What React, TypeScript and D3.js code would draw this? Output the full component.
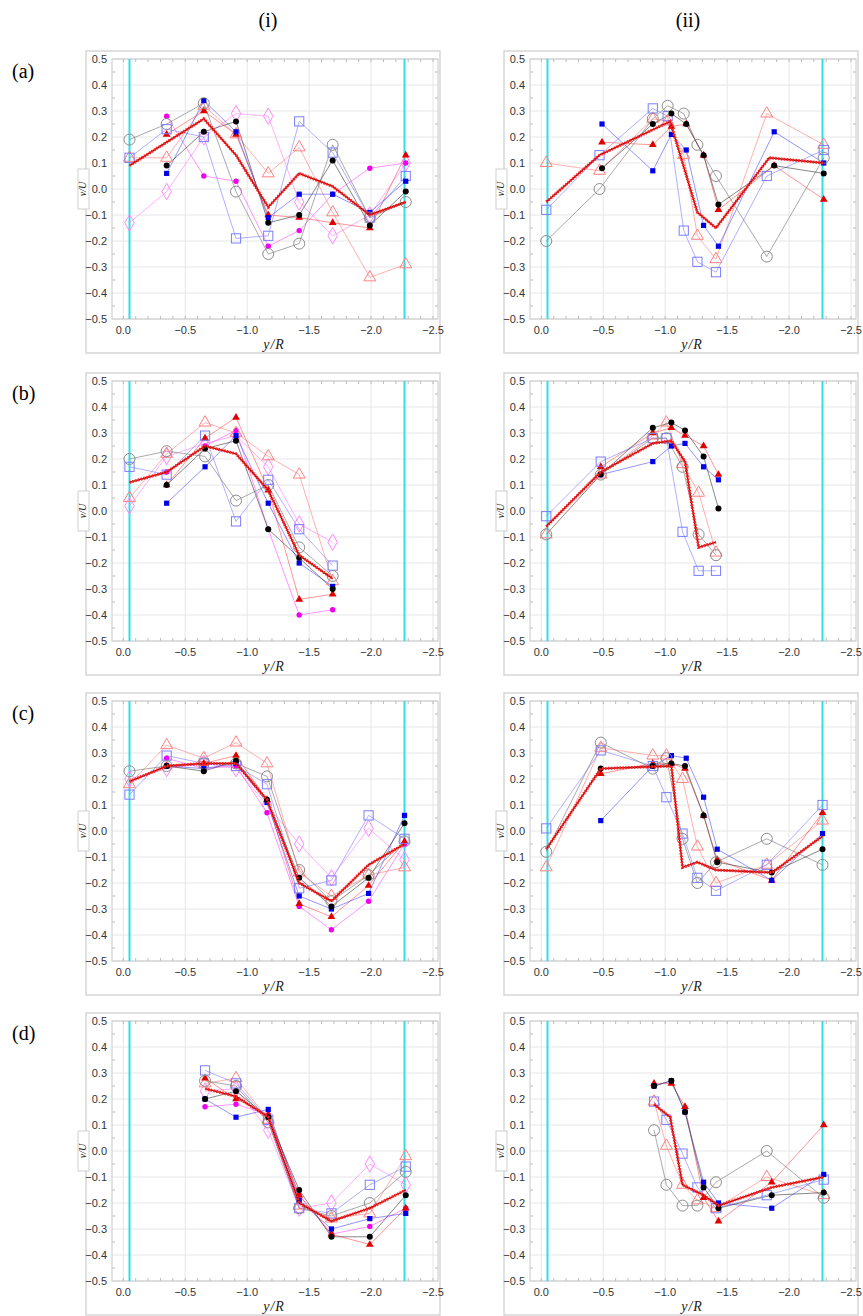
import React from "react";
import * as d3 from "d3";

type Pt = [number, number];

// ---------- (a)(i) ----------
const A1_OC: Pt[] = [[-0.05, 0.19], [-0.35, 0.25], [-0.65, 0.33], [-0.91, -0.01], [-1.17, -0.25], [-1.42, -0.21], [-1.69, 0.17], [-1.99, -0.11], [-2.28, -0.05]];
const A1_FC: Pt[] = [[-0.35, 0.09], [-0.65, 0.22], [-0.91, 0.26], [-1.17, -0.13], [-1.42, -0.1], [-1.69, 0.11], [-1.99, -0.14], [-2.28, -0.01]];
const A1_OS: Pt[] = [[-0.05, 0.12], [-0.35, 0.23], [-0.65, 0.2], [-0.91, -0.19], [-1.17, -0.18], [-1.42, 0.26], [-1.69, 0.14], [-1.99, -0.11], [-2.28, 0.05]];
const A1_FS: Pt[] = [[-0.35, 0.06], [-0.65, 0.34], [-0.91, 0.22], [-1.17, -0.11], [-1.42, -0.02], [-1.69, -0.02], [-1.99, -0.09], [-2.28, 0.03]];
const A1_OT: Pt[] = [[-0.05, 0.12], [-0.35, 0.12], [-0.65, 0.32], [-0.91, 0.21], [-1.17, 0.06], [-1.42, 0.16], [-1.69, -0.09], [-1.99, -0.34], [-2.28, -0.29]];
const A1_FT: Pt[] = [[-0.35, 0.21], [-0.65, 0.3], [-0.91, 0.21], [-1.17, -0.1], [-1.42, -0.11], [-1.69, -0.13], [-1.99, -0.15], [-2.28, 0.13]];
const A1_OD: Pt[] = [[-0.05, -0.13], [-0.35, -0.01], [-0.65, 0.2], [-0.91, 0.29], [-1.17, 0.28], [-1.42, -0.05], [-1.69, -0.18], [-1.99, -0.1], [-2.28, 0.1]];
const A1_FD: Pt[] = [[-0.35, 0.28], [-0.65, 0.05], [-0.91, 0.03], [-1.17, -0.22], [-1.42, -0.16], [-1.69, -0.02], [-1.99, 0.08], [-2.28, 0.1]];
const A1_MEAN: Pt[] = [[-0.05, 0.09], [-0.35, 0.18], [-0.65, 0.27], [-0.91, 0.13], [-1.17, -0.07], [-1.42, 0.06], [-1.69, 0.01], [-1.99, -0.1], [-2.28, -0.05]];

// ---------- (a)(ii) ----------
const A2_OC: Pt[] = [[-0.04, -0.2], [-0.47, 0.0], [-0.9, 0.27], [-1.02, 0.32], [-1.15, 0.29], [-1.26, 0.17], [-1.41, 0.05], [-1.82, -0.26], [-2.28, 0.12]];
const A2_FC: Pt[] = [[-0.49, 0.08], [-0.9, 0.25], [-1.05, 0.29], [-1.17, 0.25], [-1.31, 0.13], [-1.43, -0.06], [-1.88, 0.09], [-2.28, 0.06]];
const A2_OS: Pt[] = [[-0.04, -0.08], [-0.47, 0.13], [-0.9, 0.31], [-1.02, 0.28], [-1.15, -0.16], [-1.26, -0.28], [-1.41, -0.32], [-1.82, 0.05], [-2.28, 0.15]];
const A2_FS: Pt[] = [[-0.49, 0.25], [-0.9, 0.07], [-1.05, 0.21], [-1.17, 0.15], [-1.31, -0.14], [-1.43, -0.22], [-1.88, 0.22], [-2.28, 0.1]];
const A2_OT: Pt[] = [[-0.04, 0.1], [-0.47, 0.07], [-0.9, 0.27], [-1.02, 0.26], [-1.15, 0.13], [-1.26, -0.18], [-1.41, -0.27], [-1.82, 0.29], [-2.28, 0.17]];
const A2_FT: Pt[] = [[-0.49, 0.18], [-0.9, 0.17], [-1.05, 0.24], [-1.17, 0.25], [-1.31, 0.13], [-1.43, -0.08], [-1.88, 0.09], [-2.28, -0.04]];
const A2_MEAN: Pt[] = [[-0.04, -0.05], [-0.47, 0.13], [-1.04, 0.26], [-1.26, -0.09], [-1.41, -0.15], [-1.84, 0.12], [-2.28, 0.1]];

// ---------- (b)(i) ----------
const B1_OC: Pt[] = [[-0.05, 0.2], [-0.35, 0.23], [-0.66, 0.21], [-0.91, 0.04], [-1.17, 0.1], [-1.42, -0.14], [-1.69, -0.25]];
const B1_FC: Pt[] = [[-0.35, 0.1], [-0.66, 0.24], [-0.91, 0.27], [-1.17, -0.07], [-1.42, -0.18], [-1.69, -0.3]];
const B1_OS: Pt[] = [[-0.05, 0.17], [-0.35, 0.14], [-0.66, 0.29], [-0.91, -0.04], [-1.17, 0.12], [-1.42, -0.07], [-1.69, -0.21]];
const B1_FS: Pt[] = [[-0.35, 0.03], [-0.66, 0.17], [-0.91, 0.29], [-1.17, 0.03], [-1.42, -0.2], [-1.69, -0.29]];
const B1_OT: Pt[] = [[-0.05, 0.05], [-0.35, 0.22], [-0.66, 0.34], [-0.91, 0.3], [-1.17, 0.21], [-1.42, 0.14], [-1.69, -0.27]];
const B1_FT: Pt[] = [[-0.35, 0.1], [-0.66, 0.28], [-0.91, 0.36], [-1.17, 0.08], [-1.42, -0.34], [-1.69, -0.32]];
const B1_OD: Pt[] = [[-0.05, 0.02], [-0.35, 0.21], [-0.66, 0.26], [-0.91, 0.29], [-1.17, 0.17], [-1.42, -0.05], [-1.69, -0.12]];
const B1_FD: Pt[] = [[-0.35, 0.15], [-0.66, 0.25], [-0.91, 0.31], [-1.17, -0.07], [-1.42, -0.4], [-1.69, -0.38]];
const B1_MEAN: Pt[] = [[-0.05, 0.11], [-0.35, 0.15], [-0.66, 0.25], [-0.91, 0.22], [-1.17, 0.08], [-1.42, -0.17], [-1.69, -0.26]];

// ---------- (b)(ii) ----------
const B2_OC: Pt[] = [[-0.04, -0.09], [-0.48, 0.14], [-0.9, 0.28], [-1.01, 0.28], [-1.14, 0.17], [-1.27, -0.09], [-1.41, -0.17]];
const B2_FC: Pt[] = [[-0.48, 0.14], [-0.9, 0.32], [-1.05, 0.34], [-1.16, 0.31], [-1.31, 0.21], [-1.43, 0.01]];
const B2_OS: Pt[] = [[-0.04, -0.02], [-0.48, 0.19], [-0.9, 0.28], [-1.01, 0.28], [-1.14, -0.08], [-1.27, -0.23], [-1.41, -0.23]];
const B2_FS: Pt[] = [[-0.48, 0.14], [-0.9, 0.19], [-1.05, 0.25], [-1.16, 0.26], [-1.31, 0.17], [-1.43, 0.12]];
const B2_OT: Pt[] = [[-0.04, -0.09], [-0.48, 0.14], [-0.9, 0.29], [-1.01, 0.34], [-1.14, 0.18], [-1.27, 0.07], [-1.41, -0.16]];
const B2_FT: Pt[] = [[-0.48, 0.17], [-0.9, 0.3], [-1.05, 0.32], [-1.16, 0.29], [-1.31, 0.25], [-1.43, 0.14]];
const B2_MEAN: Pt[] = [[-0.04, -0.06], [-0.48, 0.15], [-0.9, 0.26], [-1.05, 0.27], [-1.16, 0.19], [-1.27, -0.14], [-1.41, -0.12]];

// ---------- (c)(i) ----------
const C1_OC: Pt[] = [[-0.05, 0.23], [-0.35, 0.25], [-0.65, 0.26], [-0.91, 0.26], [-1.16, 0.21], [-1.42, -0.15], [-1.68, -0.27], [-1.98, -0.17], [-2.27, -0.04]];
const C1_FC: Pt[] = [[-0.35, 0.25], [-0.65, 0.23], [-0.91, 0.27], [-1.16, 0.12], [-1.42, -0.18], [-1.68, -0.29], [-1.98, -0.18], [-2.27, 0.03]];
const C1_OS: Pt[] = [[-0.05, 0.14], [-0.35, 0.29], [-0.65, 0.26], [-0.91, 0.25], [-1.16, 0.18], [-1.42, -0.22], [-1.68, -0.19], [-1.98, 0.06], [-2.27, -0.03]];
const C1_FS: Pt[] = [[-0.35, 0.25], [-0.65, 0.24], [-0.91, 0.26], [-1.16, 0.11], [-1.42, -0.25], [-1.68, -0.3], [-1.98, -0.24], [-2.27, 0.06]];
const C1_OT: Pt[] = [[-0.05, 0.18], [-0.35, 0.33], [-0.65, 0.28], [-0.91, 0.34], [-1.16, 0.26], [-1.42, -0.16], [-1.68, -0.25], [-1.98, -0.17], [-2.27, -0.14]];
const C1_FT: Pt[] = [[-0.35, 0.25], [-0.65, 0.26], [-0.91, 0.29], [-1.16, 0.12], [-1.42, -0.28], [-1.68, -0.33], [-1.98, -0.21], [-2.27, -0.04]];
const C1_OD: Pt[] = [[-0.05, 0.2], [-0.35, 0.24], [-0.65, 0.26], [-0.91, 0.24], [-1.16, 0.1], [-1.42, -0.05], [-1.68, -0.18], [-1.98, 0.01], [-2.27, -0.11]];
const C1_FD: Pt[] = [[-0.35, 0.28], [-0.65, 0.24], [-0.91, 0.25], [-1.16, 0.07], [-1.42, -0.29], [-1.68, -0.38], [-1.98, -0.27], [-2.27, -0.05]];
const C1_MEAN: Pt[] = [[-0.05, 0.19], [-0.35, 0.25], [-0.65, 0.26], [-0.91, 0.26], [-1.16, 0.12], [-1.42, -0.2], [-1.68, -0.27], [-1.98, -0.13], [-2.27, -0.05]];

// ---------- (c)(ii) ----------
const C2_OC: Pt[] = [[-0.04, -0.08], [-0.48, 0.34], [-0.9, 0.24], [-1.01, 0.28], [-1.14, -0.03], [-1.26, -0.2], [-1.41, -0.12], [-1.82, -0.03], [-2.27, -0.13]];
const C2_FC: Pt[] = [[-0.48, 0.24], [-0.9, 0.25], [-1.05, 0.26], [-1.16, 0.25], [-1.31, 0.06], [-1.42, -0.12], [-1.86, -0.16], [-2.27, -0.07]];
const C2_OS: Pt[] = [[-0.04, 0.01], [-0.48, 0.31], [-0.9, 0.25], [-1.01, 0.13], [-1.14, -0.01], [-1.26, -0.18], [-1.41, -0.23], [-1.82, -0.13], [-2.27, 0.1]];
const C2_FS: Pt[] = [[-0.48, 0.04], [-0.9, 0.25], [-1.05, 0.29], [-1.17, 0.28], [-1.31, 0.13], [-1.42, -0.07], [-1.86, -0.19], [-2.27, -0.01]];
const C2_OT: Pt[] = [[-0.04, -0.14], [-0.48, 0.32], [-0.9, 0.29], [-1.01, 0.29], [-1.14, 0.2], [-1.26, -0.06], [-1.41, -0.2], [-1.82, -0.13], [-2.27, 0.04]];
const C2_FT: Pt[] = [[-0.48, 0.22], [-0.9, 0.26], [-1.05, 0.26], [-1.16, 0.24], [-1.31, 0.06], [-1.42, -0.11], [-1.86, -0.19], [-2.27, 0.07]];
const C2_MEAN: Pt[] = [[-0.04, -0.07], [-0.48, 0.24], [-1.05, 0.25], [-1.14, -0.14], [-1.26, -0.12], [-1.41, -0.15], [-1.86, -0.16], [-2.27, -0.02]];

// ---------- (d)(i) ----------
const D1_OC: Pt[] = [[-0.66, 0.27], [-0.91, 0.25], [-1.17, 0.11], [-1.42, -0.22], [-1.68, -0.25], [-1.99, -0.2], [-2.28, -0.08]];
const D1_FC: Pt[] = [[-0.66, 0.2], [-0.91, 0.23], [-1.17, 0.13], [-1.42, -0.15], [-1.68, -0.33], [-1.99, -0.33], [-2.28, -0.17]];
const D1_OS: Pt[] = [[-0.66, 0.31], [-0.91, 0.26], [-1.17, 0.12], [-1.42, -0.22], [-1.68, -0.24], [-1.99, -0.13], [-2.28, -0.06]];
const D1_FS: Pt[] = [[-0.66, 0.2], [-0.91, 0.13], [-1.17, 0.16], [-1.42, -0.19], [-1.68, -0.3], [-1.99, -0.26], [-2.28, -0.24]];
const D1_OT: Pt[] = [[-0.66, 0.26], [-0.91, 0.28], [-1.17, 0.12], [-1.42, -0.21], [-1.68, -0.26], [-1.99, -0.24], [-2.28, -0.02]];
const D1_FT: Pt[] = [[-0.66, 0.28], [-0.91, 0.2], [-1.17, 0.14], [-1.42, -0.17], [-1.68, -0.32], [-1.99, -0.36], [-2.28, -0.22]];
const D1_OD: Pt[] = [[-0.66, 0.23], [-0.91, 0.24], [-1.17, 0.08], [-1.42, -0.22], [-1.68, -0.2], [-1.99, -0.05], [-2.28, -0.13]];
const D1_FD: Pt[] = [[-0.66, 0.17], [-0.91, 0.18], [-1.17, 0.14], [-1.42, -0.17], [-1.68, -0.32], [-1.99, -0.29], [-2.28, -0.22]];
const D1_MEAN: Pt[] = [[-0.66, 0.24], [-0.91, 0.21], [-1.17, 0.13], [-1.42, -0.2], [-1.68, -0.27], [-1.99, -0.22], [-2.28, -0.15]];

// ---------- (d)(ii) ----------
const D2_OC: Pt[] = [[-0.91, 0.08], [-1.01, -0.13], [-1.14, -0.21], [-1.26, -0.21], [-1.41, -0.12], [-1.82, 0.0], [-2.28, -0.18]];
const D2_FC: Pt[] = [[-0.91, 0.25], [-1.05, 0.27], [-1.16, 0.15], [-1.31, -0.14], [-1.43, -0.22], [-1.86, -0.17], [-2.28, -0.16]];
const D2_OS: Pt[] = [[-0.91, 0.19], [-1.01, 0.12], [-1.14, -0.01], [-1.26, -0.14], [-1.41, -0.22], [-1.82, -0.17], [-2.28, -0.11]];
const D2_FS: Pt[] = [[-0.91, 0.25], [-1.05, 0.27], [-1.16, 0.15], [-1.31, -0.12], [-1.43, -0.2], [-1.86, -0.22], [-2.28, -0.09]];
const D2_OT: Pt[] = [[-0.91, 0.19], [-1.01, 0.02], [-1.14, -0.13], [-1.26, -0.19], [-1.41, -0.22], [-1.82, -0.1], [-2.28, -0.17]];
const D2_FT: Pt[] = [[-0.91, 0.26], [-1.05, 0.26], [-1.16, 0.17], [-1.31, -0.18], [-1.43, -0.27], [-1.86, -0.12], [-2.28, 0.1]];
const D2_MEAN: Pt[] = [[-0.91, 0.18], [-1.04, 0.13], [-1.14, -0.13], [-1.31, -0.17], [-1.43, -0.21], [-1.86, -0.14], [-2.28, -0.1]];

// ---------- axes ----------
const X_TICKS = [0, -0.5, -1, -1.5, -2, -2.5];
const Y_TICKS = [0.5, 0.4, 0.3, 0.2, 0.1, 0, -0.1, -0.2, -0.3, -0.4, -0.5];
const CYAN_LINES = [-0.05, -2.27];
const ROW_LABELS = ["(a)", "(b)", "(c)", "(d)"];
const COL_LABELS = ["(i)", "(ii)"];

type Kind = "oc" | "fc" | "os" | "fs" | "ot" | "ft" | "od" | "fd";
type Series = { kind: Kind; pts: Pt[] };
type PanelData = { series: Series[]; mean: Pt[] };

const left = (oc: Pt[], fc: Pt[], os: Pt[], fs: Pt[], ot: Pt[], ft: Pt[], od: Pt[], fd: Pt[], mean: Pt[]): PanelData => ({
  series: [
    { kind: "od", pts: od }, { kind: "fd", pts: fd },
    { kind: "ot", pts: ot }, { kind: "ft", pts: ft },
    { kind: "os", pts: os }, { kind: "fs", pts: fs },
    { kind: "oc", pts: oc }, { kind: "fc", pts: fc },
  ],
  mean,
});
const right = (oc: Pt[], fc: Pt[], os: Pt[], fs: Pt[], ot: Pt[], ft: Pt[], mean: Pt[]): PanelData => ({
  series: [
    { kind: "ot", pts: ot }, { kind: "ft", pts: ft },
    { kind: "os", pts: os }, { kind: "fs", pts: fs },
    { kind: "oc", pts: oc }, { kind: "fc", pts: fc },
  ],
  mean,
});

const PANELS: PanelData[][] = [
  [left(A1_OC, A1_FC, A1_OS, A1_FS, A1_OT, A1_FT, A1_OD, A1_FD, A1_MEAN), right(A2_OC, A2_FC, A2_OS, A2_FS, A2_OT, A2_FT, A2_MEAN)],
  [left(B1_OC, B1_FC, B1_OS, B1_FS, B1_OT, B1_FT, B1_OD, B1_FD, B1_MEAN), right(B2_OC, B2_FC, B2_OS, B2_FS, B2_OT, B2_FT, B2_MEAN)],
  [left(C1_OC, C1_FC, C1_OS, C1_FS, C1_OT, C1_FT, C1_OD, C1_FD, C1_MEAN), right(C2_OC, C2_FC, C2_OS, C2_FS, C2_OT, C2_FT, C2_MEAN)],
  [left(D1_OC, D1_FC, D1_OS, D1_FS, D1_OT, D1_FT, D1_OD, D1_FD, D1_MEAN), right(D2_OC, D2_FC, D2_OS, D2_FS, D2_OT, D2_FT, D2_MEAN)],
];

const LINE_STYLE: Record<Kind, { color: string; opacity: number }> = {
  oc: { color: "#808080", opacity: 0.75 },
  fc: { color: "#404040", opacity: 0.7 },
  os: { color: "#7878ff", opacity: 0.65 },
  fs: { color: "#3a3aff", opacity: 0.6 },
  ot: { color: "#ff7878", opacity: 0.65 },
  ft: { color: "#ff3a3a", opacity: 0.6 },
  od: { color: "#ff78ff", opacity: 0.65 },
  fd: { color: "#ff3aff", opacity: 0.6 },
};

const FRAME_X = [86, 504];
const PLOT_TOP = [59, 381, 701, 1021];
const PLOT_H = 260;
const FRAME_W = 354;
const SANS = "'Liberation Sans', Arial, Helvetica, sans-serif";
const SERIF = "'Liberation Serif', 'Times New Roman', serif";

const triBig = d3.symbol().type(d3.symbolTriangle).size(62)() as string;
const triSmall = d3.symbol().type(d3.symbolTriangle).size(26)() as string;
const diaBig = d3.symbol().type(d3.symbolDiamond).size(78)() as string;

function Marker({ kind, x, y }: { kind: Kind; x: number; y: number }) {
  const t = `translate(${x},${y})`;
  switch (kind) {
    case "oc":
      return <circle cx={x} cy={y} r={5.5} fill="none" stroke="#8c8c8c" strokeWidth={1} />;
    case "fc":
      return <circle cx={x} cy={y} r={3} fill="#000" />;
    case "os":
      return <rect x={x - 4.6} y={y - 4.6} width={9.2} height={9.2} fill="none" stroke="#7c7cff" strokeWidth={1} />;
    case "fs":
      return <rect x={x - 2.6} y={y - 2.6} width={5.2} height={5.2} fill="#0000e6" />;
    case "ot":
      return <path transform={t} d={triBig} fill="none" stroke="#ff8080" strokeWidth={1} />;
    case "ft":
      return <path transform={t} d={triSmall} fill="#e00000" />;
    case "od":
      return <path transform={t} d={diaBig} fill="none" stroke="#ff88ff" strokeWidth={1} />;
    case "fd":
      return <circle cx={x} cy={y} r={2.7} fill="#f000f0" />;
  }
}

function Panel({ row, col, data }: { row: number; col: number; data: PanelData }) {
  const fx = FRAME_X[col];
  const top = PLOT_TOP[row];
  const plotL = fx + 26;
  const plotR = fx + 352;
  const bottom = top + PLOT_H;
  const x = d3.scaleLinear().domain([0, -2.5]).range([fx + 37.3, fx + 347]);
  const y = d3.scaleLinear().domain([-0.5, 0.5]).range([bottom, top]);
  const line = d3.line<Pt>().x((d) => x(d[0])).y((d) => y(d[1]));
  const minorX = d3.range(0, 26).map((i) => -i * 0.1).filter((v) => x(v) > plotL && x(v) < plotR);
  const minorY = d3.range(-0.45, 0.5, 0.1);
  const midY = (top + bottom) / 2;

  return (
    <g>
      {/* figure frame */}
      <rect x={fx} y={top - 8} width={FRAME_W} height={302} fill="#fff" stroke="#d6d6d6" strokeWidth={1.5} />
      {/* grid */}
      {X_TICKS.map((v) => (
        <line key={"gx" + v} x1={x(v)} x2={x(v)} y1={top} y2={bottom} stroke="#e6e6e6" strokeWidth={1} />
      ))}
      {Y_TICKS.map((v) => (
        <line key={"gy" + v} x1={plotL} x2={plotR} y1={y(v)} y2={y(v)} stroke="#e6e6e6" strokeWidth={1} />
      ))}
      {/* minor ticks */}
      {minorX.map((v) => (
        <g key={"mx" + v}>
          <line x1={x(v)} x2={x(v)} y1={top} y2={top + 3} stroke="#aaa" strokeWidth={0.8} />
          <line x1={x(v)} x2={x(v)} y1={bottom} y2={bottom - 3} stroke="#aaa" strokeWidth={0.8} />
        </g>
      ))}
      {minorY.map((v) => (
        <g key={"my" + v}>
          <line x1={plotL} x2={plotL + 3} y1={y(v)} y2={y(v)} stroke="#aaa" strokeWidth={0.8} />
          <line x1={plotR} x2={plotR - 3} y1={y(v)} y2={y(v)} stroke="#aaa" strokeWidth={0.8} />
        </g>
      ))}
      <rect x={plotL} y={top} width={plotR - plotL} height={PLOT_H} fill="none" stroke="#c8c8c8" strokeWidth={1} />
      {/* tick labels */}
      {Y_TICKS.map((v) => (
        <text key={"ty" + v} x={plotL - 5} y={y(v) + 4} textAnchor="end" fontFamily={SANS} fontSize={11} fill="#333">
          {d3.format(".1f")(v)}
        </text>
      ))}
      {X_TICKS.map((v) => (
        <text key={"tx" + v} x={x(v)} y={bottom + 15} textAnchor="middle" fontFamily={SANS} fontSize={11} fill="#333">
          {d3.format(".1f")(v)}
        </text>
      ))}
      <text x={fx + 188} y={bottom + 30} textAnchor="middle" fontFamily={SERIF} fontStyle="italic" fontSize={14} letterSpacing={1} fill="#222">
        y/R
      </text>
      {/* v/U label box */}
      <rect x={fx - 8} y={midY - 20} width={11} height={40} fill="#fff" stroke="#cfcfcf" strokeWidth={1} />
      <text transform={`translate(${fx - 0.5},${midY}) rotate(-90)`} textAnchor="middle" fontFamily={SERIF} fontStyle="italic" fontSize={10} fill="#222">
        v/U
      </text>
      {/* cyan reference lines */}
      {CYAN_LINES.map((v) => (
        <line key={"cy" + v} x1={x(v)} x2={x(v)} y1={top} y2={bottom} stroke="#30dde6" strokeWidth={2} />
      ))}
      {/* series lines */}
      {data.series.map((s, i) => (
        <path key={"l" + i} d={line(s.pts) ?? ""} fill="none" stroke={LINE_STYLE[s.kind].color} strokeOpacity={LINE_STYLE[s.kind].opacity} strokeWidth={0.9} />
      ))}
      {/* markers */}
      {data.series.map((s, i) => (
        <g key={"m" + i}>
          {s.pts.map((p, j) => (
            <Marker key={j} kind={s.kind} x={x(p[0])} y={y(p[1])} />
          ))}
        </g>
      ))}
      {/* mean profile */}
      <path d={line(data.mean) ?? ""} fill="none" stroke="#a00000" strokeWidth={1.4} />
      <path d={line(data.mean) ?? ""} fill="none" stroke="#ff2020" strokeWidth={3} strokeDasharray="1.6 1.3" />
    </g>
  );
}

export default function App() {
  return (
    <svg width={863} height={1316} style={{ position: "absolute", left: 0, top: 0, background: "#fff" }}>
      <rect x={0} y={0} width={863} height={1316} fill="#fff" />
      {COL_LABELS.map((c, i) => (
        <text key={c} x={i === 0 ? 268 : 688} y={27} textAnchor="middle" fontFamily={SERIF} fontSize={20} fill="#000">
          {c}
        </text>
      ))}
      {ROW_LABELS.map((r, i) => (
        <text key={r} x={12} y={PLOT_TOP[i] + 19} fontFamily={SERIF} fontSize={20} fill="#000">
          {r}
        </text>
      ))}
      {PANELS.map((row, ri) =>
        row.map((p, ci) => <Panel key={ri + "-" + ci} row={ri} col={ci} data={p} />)
      )}
    </svg>
  );
}
